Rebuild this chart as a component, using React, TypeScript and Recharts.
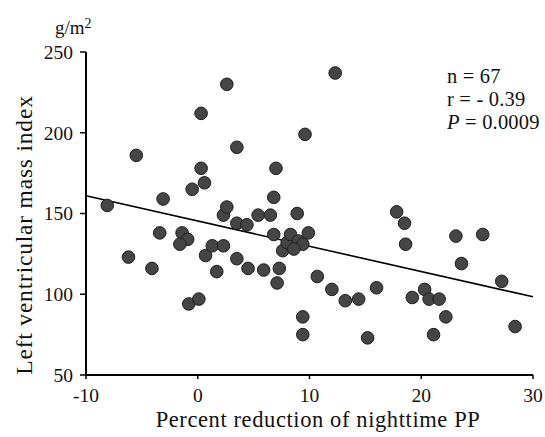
import { ScatterChart, Scatter, XAxis, YAxis, ReferenceLine } from 'recharts';

// percent reduction of nighttime PP
const reduction = [
    -8.1, -6.2, -5.5, -4.1, -3.4, -3.1, -1.4, -0.9, -1.6, -0.8,
    0.1, 0.3, 0.3, 0.6, -0.5, 0.7, 1.3, 1.7, 2.3, 2.3,
    2.6, 2.6, 3.5, 3.5, 3.5, 4.4, 4.5, 5.4, 5.9, 6.5,
    6.8, 7.0, 6.8, 7.3, 7.1, 7.6, 8.0, 8.3, 8.9, 9.0,
    9.4, 9.9, 9.6, 9.4, 9.4, 10.7, 12.0, 12.3, 13.2, 14.4,
    15.2, 16.0, 17.8, 18.5, 18.6, 19.2, 20.3, 20.7, 21.6, 22.2,
    21.1, 23.1, 23.6, 25.5, 27.2, 28.4, 8.6,
];

// left ventricular mass index (g/m2)
const lvmi = [
    155, 123, 186, 116, 138, 159, 138, 134, 131, 94,
    97, 212, 178, 169, 165, 124, 130, 114, 130, 149,
    154, 230, 191, 144, 122, 143, 116, 149, 115, 149,
    160, 178, 137, 116, 107, 127, 132, 137, 150, 133,
    131, 138, 199, 86, 75, 111, 103, 237, 96, 97,
    73, 104, 151, 144, 131, 98, 103, 97, 97, 86,
    75, 136, 119, 137, 108, 80, 128,
];

const fitLine = [
    { x: -10, y: 161 },
    { x: 30, y: 98.4 },
];

const xTicks = [-10, 0, 10, 20, 30];
const yTicks = [50, 100, 150, 200, 250];
const stats = ['n = 67', 'r = - 0.39'];

const points = reduction.map((x, i) => ({ x, y: lvmi[i] }));

const FONT = '"Liberation Serif", "DejaVu Serif", serif';

export default function App() {
    const tickStyle = { fontFamily: FONT, fontSize: 19.5, fill: '#111' };
    return (
        <div style={{ position: 'absolute', left: 0, top: 0, width: 545, height: 437, background: '#fff' }}>
            <ScatterChart width={545} height={437} margin={{ top: 52, right: 12, bottom: 61, left: 85 }}>
                <XAxis
                    type="number"
                    dataKey="x"
                    domain={[-10, 30]}
                    ticks={xTicks}
                    height={1}
                    tickSize={4}
                    tickMargin={9}
                    axisLine={{ stroke: '#000', strokeWidth: 2 }}
                    tickLine={{ stroke: '#000', strokeWidth: 1.5 }}
                    tick={tickStyle}
                    allowDataOverflow
                />
                <YAxis
                    type="number"
                    dataKey="y"
                    domain={[50, 250]}
                    ticks={yTicks}
                    width={1}
                    tickSize={6}
                    tickMargin={7}
                    axisLine={{ stroke: '#000', strokeWidth: 2 }}
                    tickLine={{ stroke: '#000', strokeWidth: 1.5 }}
                    tick={tickStyle}
                    allowDataOverflow
                />
                <ReferenceLine segment={fitLine} stroke="#000" strokeWidth={1.6} ifOverflow="visible" />
                <Scatter
                    data={points}
                    fill="#454545"
                    stroke="#1e1e1e"
                    strokeWidth={1}
                    isAnimationActive={false}
                    shape={(props: any) => (
                        <circle cx={props.cx} cy={props.cy} r={6.3} fill="#454545" stroke="#1e1e1e" strokeWidth={1} />
                    )}
                />
            </ScatterChart>
            <svg
                width={545}
                height={437}
                style={{ position: 'absolute', left: 0, top: 0, pointerEvents: 'none' }}
            >
                <text x={55} y={34} fontFamily={FONT} fontSize={19} fill="#111">
                    g/m<tspan fontSize={14} dy={-6}>2</tspan>
                </text>
                <text
                    x={0}
                    y={0}
                    transform="translate(32,235) rotate(-90)"
                    textAnchor="middle"
                    fontFamily={FONT}
                    fontSize={23.5}
                    letterSpacing={0.8}
                    fill="#111"
                >
                    Left ventricular mass index
                </text>
                <text
                    x={318}
                    y={427}
                    textAnchor="middle"
                    fontFamily={FONT}
                    fontSize={22.5}
                    letterSpacing={0.6}
                    fill="#111"
                >
                    Percent reduction of nighttime PP
                </text>
                {stats.map((s, i) => (
                    <text key={s} x={447} y={83 + i * 23} fontFamily={FONT} fontSize={20.5} letterSpacing={0.2} fill="#111">
                        {s}
                    </text>
                ))}
                <text x={447} y={129} fontFamily={FONT} fontSize={20.5} letterSpacing={0.2} fill="#111">
                    <tspan fontStyle="italic">P</tspan> = 0.0009
                </text>
            </svg>
        </div>
    );
}
